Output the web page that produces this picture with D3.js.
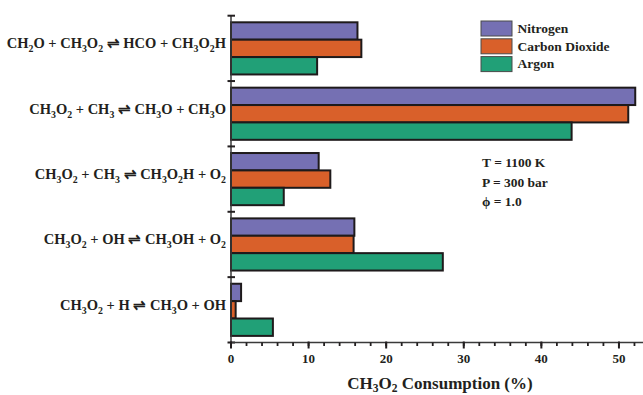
<!DOCTYPE html>
<html>
<head>
<meta charset="utf-8">
<script src="https://cdn.jsdelivr.net/npm/d3@7"></script>
<style>
  body { margin: 0; background: #fff; }
  text { font-family: "Liberation Serif", "Times New Roman", serif; fill: #231f20; }
</style>
</head>
<body>
<div id="chart"></div>
<script>
// Reactions (top to bottom), "_n" marks a subscript
var reactions = [
  "CH_2O + CH_3O_2 \u21CC HCO + CH_3O_2H",
  "CH_3O_2 + CH_3 \u21CC CH_3O + CH_3O",
  "CH_3O_2 + CH_3 \u21CC CH_3O_2H + O_2",
  "CH_3O_2 + OH \u21CC CH_3OH + O_2",
  "CH_3O_2 + H \u21CC CH_3O + OH"
];
var series = ["Nitrogen", "Carbon Dioxide", "Argon"];
var colors = ["#7570b3", "#d9602a", "#21a077"];

// CH3O2 consumption (%) per reaction
var nitrogen = [16.3, 52.1, 11.3, 15.9, 1.3];
var carbonDioxide = [16.8, 51.2, 12.8, 15.8, 0.6];
var argon = [11.1, 43.9, 6.8, 27.3, 5.4];

var xTicks = [0, 10, 20, 30, 40, 50];
var notes = ["T = 1100 K", "P = 300 bar", "\u03D5 = 1.0"];

var width = 643, height = 395;
var margin = {top: 15.7, right: 0, bottom: 52.5, left: 231};

var svg = d3.select("#chart").append("svg")
  .attr("width", width)
  .attr("height", height);

var x = d3.scaleLinear()
  .domain([0, 53.1])
  .range([margin.left, width - margin.right]);

var y = d3.scaleBand()
  .domain(d3.range(reactions.length))
  .range([margin.top, height - margin.bottom])
  .padding(0);

var ySub = d3.scaleBand()
  .domain(series)
  .range([0, y.bandwidth()])
  .paddingInner(0)
  .paddingOuter(0.38);

var values = [nitrogen, carbonDioxide, argon];
var rows = [];
reactions.forEach(function(r, i) {
  series.forEach(function(s, j) {
    rows.push({group: i, series: s, color: colors[j], value: values[j][i]});
  });
});

// write a label with subscripts as tspans
function richText(sel, str, shift) {
  var parts = str.split(/_(\d)/);
  parts.forEach(function(p, k) {
    if (p === "") return;
    var t = sel.append("tspan").text(p);
    if (k % 2 === 1) {
      t.attr("font-size", "0.68em").attr("dy", shift);
    } else if (k > 0 && parts[k - 1] !== "" ) {
      t.attr("dy", -shift);
    }
  });
}

// bars
svg.append("g")
  .selectAll("rect")
  .data(rows)
  .enter().append("rect")
  .attr("x", x(0))
  .attr("y", function(d) { return y(d.group) + ySub(d.series); })
  .attr("width", function(d) { return x(d.value) - x(0); })
  .attr("height", ySub.bandwidth())
  .attr("fill", function(d) { return d.color; })
  .attr("stroke", "#1e1a1b")
  .attr("stroke-width", 2);

// y axis line + boundary ticks
var yAxis = svg.append("g");
yAxis.append("line")
  .attr("x1", x(0)).attr("x2", x(0))
  .attr("y1", margin.top).attr("y2", height - margin.bottom)
  .attr("stroke", "#3a3a3a").attr("stroke-width", 1.5);
var bounds = y.domain().map(function(d) { return y(d); }).concat([height - margin.bottom]);
yAxis.selectAll("line.tick")
  .data(bounds)
  .enter().append("line")
  .attr("class", "tick")
  .attr("x1", x(0) - 3.5).attr("x2", x(0) + 4)
  .attr("y1", function(d) { return d; }).attr("y2", function(d) { return d; })
  .attr("stroke", "#231f20").attr("stroke-width", 2);

yAxis.selectAll("text")
  .data(reactions)
  .enter().append("text")
  .attr("x", 226)
  .attr("y", function(d, i) { return y(i) + y.bandwidth() / 2; })
  .attr("text-anchor", "end")
  .attr("font-size", 14.5)
  .attr("font-weight", "bold")
  .each(function(d) { richText(d3.select(this), d, 4); });

// x axis
var xAxis = svg.append("g")
  .attr("transform", "translate(0," + (height - margin.bottom) + ")");
xAxis.append("line")
  .attr("x1", x(0)).attr("x2", width)
  .attr("stroke", "#3a3a3a").attr("stroke-width", 1.5);
xAxis.selectAll("line.minor")
  .data(d3.range(0, 53, 2))
  .enter().append("line")
  .attr("class", "minor")
  .attr("x1", function(d) { return x(d); }).attr("x2", function(d) { return x(d); })
  .attr("y1", 0).attr("y2", 3.5)
  .attr("stroke", "#231f20").attr("stroke-width", 1.8);
xAxis.selectAll("line.major")
  .data(xTicks)
  .enter().append("line")
  .attr("class", "major")
  .attr("x1", function(d) { return x(d); }).attr("x2", function(d) { return x(d); })
  .attr("y1", -1).attr("y2", 6)
  .attr("stroke", "#231f20").attr("stroke-width", 2);
xAxis.selectAll("text")
  .data(xTicks)
  .enter().append("text")
  .attr("x", function(d) { return x(d); })
  .attr("y", 20.5)
  .attr("text-anchor", "middle")
  .attr("font-size", 13)
  .attr("font-weight", "bold")
  .text(function(d) { return d; });

svg.append("text")
  .attr("x", 440)
  .attr("y", 389)
  .attr("text-anchor", "middle")
  .attr("font-size", 17)
  .attr("font-weight", "bold")
  .each(function() { richText(d3.select(this), "CH_3O_2 Consumption (%)", 3); });

// legend
var legend = svg.append("g").attr("transform", "translate(481,21)");
var item = legend.selectAll("g")
  .data(series)
  .enter().append("g")
  .attr("transform", function(d, i) { return "translate(0," + (i * 17.8) + ")"; });
item.append("rect")
  .attr("width", 31).attr("height", 15)
  .attr("fill", function(d, i) { return colors[i]; })
  .attr("stroke", "#4a4a4a").attr("stroke-width", 1);
item.append("text")
  .attr("x", 36.5).attr("y", 11.8)
  .attr("font-size", 13.5)
  .attr("font-weight", "bold")
  .text(function(d) { return d; });

// conditions
svg.append("g").selectAll("text")
  .data(notes)
  .enter().append("text")
  .attr("x", 482)
  .attr("y", function(d, i) { return [167, 187, 205.5][i]; })
  .attr("font-size", 13.5)
  .attr("font-weight", "bold")
  .style("fill", "#231f20")
  .text(function(d) { return d; });
</script>
</body>
</html>
